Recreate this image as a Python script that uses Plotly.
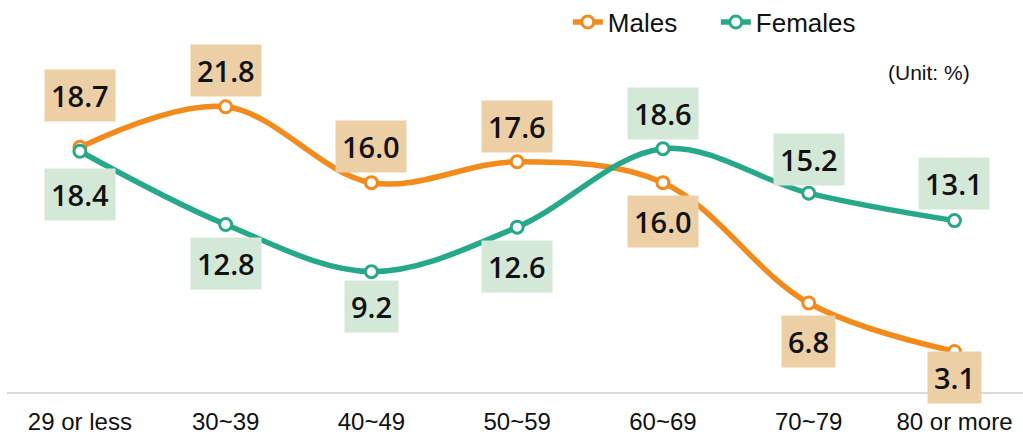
import plotly.graph_objects as go

categories = ["29 or less", "30~39", "40~49", "50~59", "60~69", "70~79", "80 or more"]
males = [18.7, 21.8, 16.0, 17.6, 16.0, 6.8, 3.1]
females = [18.4, 12.8, 9.2, 12.6, 18.6, 15.2, 13.1]

# label offsets in pixels (positive = above the point)
male_label_shift = [52, 36, 36, 35, -39, -38, -26]
female_label_shift = [-43, -39, -35, -39, 35, 34, 37]

male_color = "#F28A1C"
female_color = "#27A88B"
male_box = "#EDCFA6"
female_box = "#D3E8D7"
sans = "Liberation Sans, Arial, sans-serif"

fig = go.Figure()
fig.add_trace(go.Scatter(
    x=categories, y=males, name="Males", mode="lines+markers",
    line=dict(color=male_color, width=5.5, shape="spline", smoothing=1.0),
    marker=dict(size=12, color="white", line=dict(color=male_color, width=3)),
))
fig.add_trace(go.Scatter(
    x=categories, y=females, name="Females", mode="lines+markers",
    line=dict(color=female_color, width=5.5, shape="spline", smoothing=1.0),
    marker=dict(size=12, color="white", line=dict(color=female_color, width=3)),
))

annotations = []
for cat, v, s in zip(categories, males, male_label_shift):
    annotations.append(dict(
        x=cat, y=v, xref="x", yref="y", text=f"{v:.1f}", showarrow=False,
        yshift=s, bgcolor=male_box, borderpad=6,
        font=dict(family="Open Sans", size=29, color="#111111", weight=600),
    ))
for cat, v, s in zip(categories, females, female_label_shift):
    annotations.append(dict(
        x=cat, y=v, xref="x", yref="y", text=f"{v:.1f}", showarrow=False,
        yshift=s, bgcolor=female_box, borderpad=6,
        font=dict(family="Open Sans", size=29, color="#111111", weight=600),
    ))
annotations.append(dict(
    x=(929 - 7) / 1016, y=(392 - 73) / 314, xref="paper", yref="paper",
    text="(Unit: %)", showarrow=False, xanchor="center", yanchor="middle",
    font=dict(family=sans, size=21, color="#111111"),
))

fig.update_layout(
    width=1023, height=437,
    margin=dict(l=7, r=0, t=78, b=45, autoexpand=False),
    plot_bgcolor="white", paper_bgcolor="white",
    showlegend=True,
    legend=dict(orientation="h", x=0.552, y=1.178, xanchor="left", yanchor="middle",
                font=dict(family=sans, size=26, color="#111111"),
                bgcolor="rgba(0,0,0,0)", itemwidth=30,
                entrywidth=103, entrywidthmode="pixels"),
    xaxis=dict(range=[-0.5, 6.47], showgrid=False, showline=True, linecolor="#D9D9D9",
               linewidth=2, ticks="", tickfont=dict(family=sans, size=24, color="#111111"),
               ticklabelstandoff=7, zeroline=False),
    yaxis=dict(range=[0, 24], showgrid=False, showticklabels=False, zeroline=False, showline=False),
    annotations=annotations,
)

fig.write_html("out.html", config={"displayModeBar": False},
               post_script="document.body.style.margin='0';document.body.style.overflow='hidden';")
